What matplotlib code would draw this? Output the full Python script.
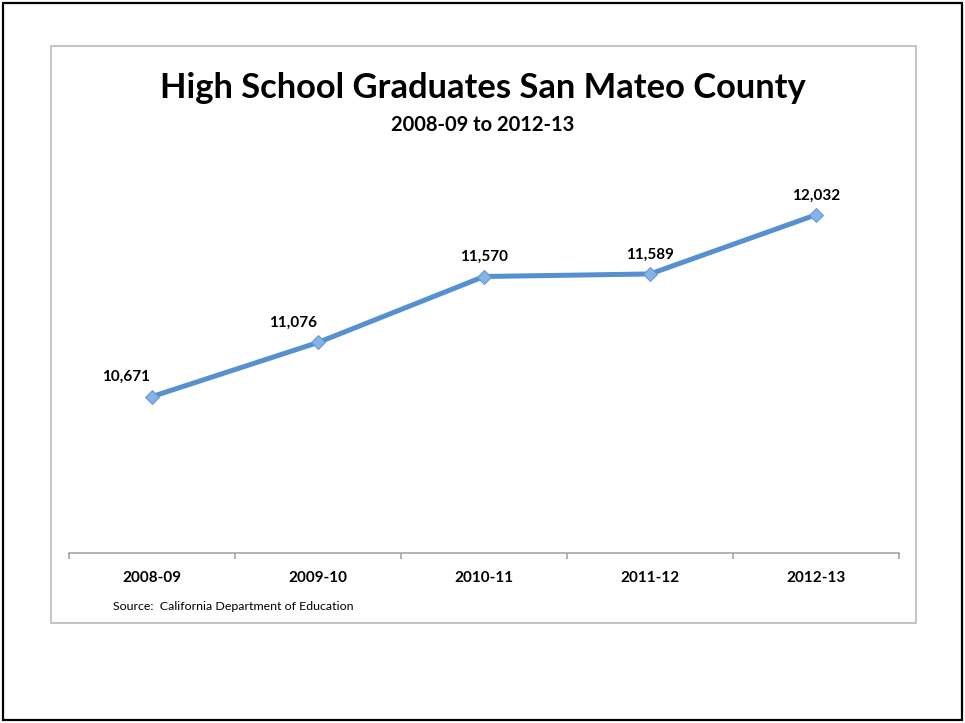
import matplotlib
matplotlib.use("Agg")
import matplotlib.pyplot as plt
from matplotlib.patches import Rectangle

categories = ["2008-09", "2009-10", "2010-11", "2011-12", "2012-13"]
graduates = [10671, 11076, 11570, 11589, 12032]
label_dx = [-26, -25, 0, 0, 0]  # label offset in px (styling)

W, H = 965, 723
fig = plt.figure(figsize=(W / 100, H / 100), dpi=100)
fig.patch.set_facecolor("white")
FONT = ["Lato", "DejaVu Sans"]

def fx(px):
    return px / W

def fy(py):
    return 1 - py / H

# outer black border
fig.patches.append(Rectangle((fx(3), fy(720)), fx(959), 717 / H, transform=fig.transFigure,
                             fill=False, edgecolor="black", linewidth=1.6))
# inner gray chart frame
fig.patches.append(Rectangle((fx(51), fy(623)), fx(865), 577 / H, transform=fig.transFigure,
                             fill=False, edgecolor="#BFBFBF", linewidth=1.3))

ax_left, ax_right = 69, 899
ax_top, ax_bottom = 85.5, 553
ax = fig.add_axes([fx(ax_left), fy(ax_bottom), (ax_right - ax_left) / W, (ax_bottom - ax_top) / H])
ax.set_facecolor("none")

x = list(range(len(categories)))
ax.plot(x, graduates, color="#5690D0", linewidth=3.6, solid_capstyle="round", zorder=3)
ax.plot(x, graduates, linestyle="none", marker="D", markersize=7.5,
        markerfacecolor="#86B2E6", markeredgecolor="#5E95D2", markeredgewidth=0.7, zorder=4)

for xi, v, dx in zip(x, graduates, label_dx):
    ax.annotate(f"{v:,}", (xi, v), xytext=(dx * 0.72, 9), textcoords="offset points",
                ha="center", va="bottom", fontsize=11, fontweight="bold", family=FONT)

ax.set_xlim(-0.5, len(categories) - 0.5)
ax.set_ylim(9500, 13000)
ax.set_yticks([])
for s in ["top", "right", "left"]:
    ax.spines[s].set_visible(False)
ax.spines["bottom"].set_color("#A6A6A6")
ax.spines["bottom"].set_linewidth(1.2)

ax.set_xticks([i - 0.5 for i in range(len(categories) + 1)])
ax.set_xticklabels([])
ax.set_xticks(x, minor=True)
ax.set_xticklabels(categories, minor=True, fontsize=11, fontweight="bold", family=FONT)
ax.tick_params(axis="x", which="major", length=4, color="#A6A6A6", width=1.2, direction="out")
ax.tick_params(axis="x", which="minor", length=0, pad=13)

fig.text(fx(483), fy(88), "High School Graduates San Mateo County", ha="center", va="center",
         fontsize=24.8, fontweight="bold", family=FONT)
fig.text(fx(483), fy(125), "2008-09 to 2012-13", ha="center", va="center",
         fontsize=14.5, fontweight="bold", family=FONT)
fig.text(fx(113), fy(607), "Source:  California Department of Education", ha="left", va="center",
         fontsize=8.9, family=FONT)

fig.savefig("out.png", dpi=100, facecolor="white")
